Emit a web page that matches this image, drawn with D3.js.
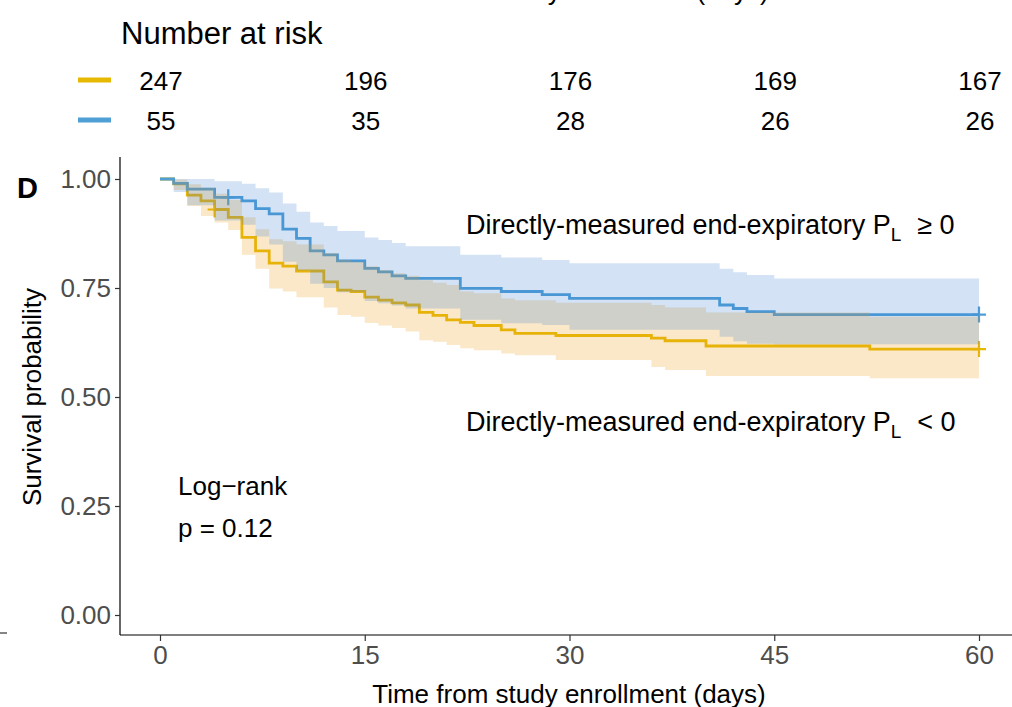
<!DOCTYPE html>
<html><head><meta charset="utf-8">
<script src="https://cdn.jsdelivr.net/npm/d3@7"></script>
<style>
html,body{margin:0;padding:0;background:#fff;}
svg{display:block;font-family:"Liberation Sans",Arial,Helvetica,sans-serif;}
</style></head>
<body>
<svg id="chart" width="1012" height="707"></svg>
<script>
// ---- Data ----
const groups = ["Directly-measured end-expiratory PL < 0", "Directly-measured end-expiratory PL ≥ 0"];
const colors = ["#E7B800", "#4F9FD6"];

const timesLow = [0,1,2,3,4,5,6,7,8,9,10,12,13,14,15,16,17,18,19,20,21,22,23,25,26,29,36,37,40,52];
const survLow  = [1.000,0.989,0.963,0.950,0.930,0.912,0.866,0.835,0.807,0.800,0.789,0.764,0.745,0.742,0.729,0.722,0.716,0.711,0.694,0.687,0.677,0.671,0.664,0.654,0.646,0.641,0.635,0.629,0.617,0.610];
const upperLow = [1.000,0.999,0.988,0.980,0.966,0.952,0.912,0.885,0.862,0.857,0.850,0.830,0.814,0.810,0.800,0.791,0.784,0.778,0.768,0.762,0.757,0.742,0.738,0.726,0.722,0.716,0.711,0.705,0.694,0.684];
const lowerLow = [1.000,0.975,0.938,0.915,0.900,0.883,0.826,0.794,0.749,0.742,0.729,0.705,0.688,0.684,0.670,0.664,0.658,0.650,0.630,0.627,0.619,0.612,0.607,0.600,0.596,0.585,0.569,0.562,0.548,0.543];
const censorLow = [4, 60];

const timesHigh = [0,1,2,4,6,7,8,9,10,11,12,13,15,16,17,18,22,25,28,30,41,42,43,45];
const survHigh  = [1.000,0.990,0.977,0.958,0.950,0.932,0.920,0.885,0.864,0.835,0.826,0.812,0.795,0.787,0.778,0.772,0.749,0.742,0.735,0.726,0.711,0.703,0.696,0.689];
const upperHigh = [1.000,1.000,1.000,0.995,0.989,0.979,0.969,0.944,0.925,0.900,0.892,0.881,0.866,0.860,0.853,0.846,0.826,0.820,0.814,0.807,0.794,0.786,0.780,0.772];
const lowerHigh = [1.000,0.970,0.940,0.905,0.895,0.868,0.850,0.810,0.790,0.760,0.750,0.740,0.720,0.715,0.710,0.703,0.677,0.669,0.665,0.654,0.638,0.628,0.622,0.621];
const censorHigh = [5, 60];

const endTime = 60;
const xTicks = [0,15,30,45,60];
const yTicks = [0,0.25,0.5,0.75,1];
const riskTimes = [0,15,30,45,60];
const riskLow  = [247,196,176,169,167];
const riskHigh = [55,35,28,26,26];

// ---- Build ----
const svg = d3.select("#chart");
const x = d3.scaleLinear().domain([0,60]).range([160,979]);
const y = d3.scaleLinear().domain([0,1]).range([615,179]);
const textCol = "#4D4D4D";
const FS = "26px";

function series(times, surv, up, lo){
  const d = times.map((t,i)=>({t, s:surv[i], u:up[i], l:lo[i]}));
  const last = d[d.length-1];
  d.push({t:endTime, s:last.s, u:last.u, l:last.l});
  return d;
}
const sLow = series(timesLow, survLow, upperLow, lowerLow);
const sHigh = series(timesHigh, survHigh, upperHigh, lowerHigh);

function survAt(d, t){ let v = d[0].s; for(const p of d){ if(p.t<=t) v=p.s; } return v; }

const line = d3.line().x(d=>x(d.t)).y(d=>y(d.s)).curve(d3.curveStepAfter);
const area = d3.area().x(d=>x(d.t)).y0(d=>y(d.l)).y1(d=>y(d.u)).curve(d3.curveStepAfter);

const plot = svg.append("g");
[[sLow,colors[0]],[sHigh,colors[1]]].forEach(([d,c])=>{
  plot.append("path").datum(d).attr("d",line).attr("fill","none")
    .attr("stroke",c).attr("stroke-width",2.8);
});
[[sLow,censorLow,colors[0]],[sHigh,censorHigh,colors[1]]].forEach(([d,cs,c])=>{
  cs.forEach(t=>{
    const cx = x(t), cy = y(survAt(d,t));
    plot.append("path").attr("d",`M${cx-7},${cy}H${cx+7}M${cx},${cy-8}V${cy+8}`)
      .attr("stroke",c).attr("stroke-width",2.2).attr("fill","none");
  });
});
plot.append("path").datum(sLow).attr("d",area).attr("fill","#EBA323").attr("fill-opacity",0.25);
plot.append("path").datum(sHigh).attr("d",area).attr("fill","#377BD2").attr("fill-opacity",0.22);

// axes
const yAxis = d3.axisLeft(y).tickValues(yTicks).tickFormat(d3.format(".2f")).tickSize(5).tickPadding(4);
const gy = svg.append("g").attr("transform","translate(120,0)").call(yAxis);
gy.select(".domain").attr("d","M0,157V635");
const xAxis = d3.axisBottom(x).tickValues(xTicks).tickSize(6).tickPadding(5);
const gx = svg.append("g").attr("transform","translate(0,635)").call(xAxis);
gx.select(".domain").attr("d","M120,0H1012");
[gx,gy].forEach(g=>{
  g.selectAll(".domain").attr("stroke","#000").attr("stroke-width",1.2);
  g.selectAll(".tick line").attr("stroke","#333").attr("stroke-width",1.2);
  g.selectAll(".tick text").attr("fill",textCol).style("font-size",FS)
   .style("font-family","'Liberation Sans',Arial,sans-serif");
});

// axis titles
svg.append("text").attr("x",569).attr("y",703).attr("text-anchor","middle")
  .style("font-size",FS).attr("fill","#000").text("Time from study enrollment (days)");
svg.append("text").attr("transform","translate(41,397) rotate(-90)").attr("text-anchor","middle")
  .style("font-size",FS).attr("fill","#000").text("Survival probability");
// title of the risk table, mostly above the visible area
svg.append("text").attr("x",572).attr("y",0).attr("text-anchor","middle")
  .style("font-size",FS).attr("fill","#000").text("Time from study enrollment (days)");

// panel letter
svg.append("text").attr("x",17).attr("y",198).style("font-size","29px").style("font-weight","bold")
  .attr("fill","#000").text("D");
svg.append("line").attr("x1",0).attr("x2",7).attr("y1",633).attr("y2",633).attr("stroke","#333").attr("stroke-width",1.2);

function groupLabel(yy, sym){
  const t = svg.append("text").attr("x",466).attr("y",yy).style("font-size","27px").attr("fill","#000");
  t.append("tspan").text("Directly-measured end-expiratory P");
  t.append("tspan").attr("dy",7).style("font-size","19px").text("L");
  t.append("tspan").attr("dy",-7).attr("dx",16).text(sym + " 0");
}
groupLabel(234, "≥");
groupLabel(431, "<");

svg.append("text").attr("x",178).attr("y",495).style("font-size",FS).attr("fill","#000").text("Log\u2212rank");
svg.append("text").attr("x",178).attr("y",537).style("font-size",FS).attr("fill","#000").text("p = 0.12");

// risk table
svg.append("text").attr("x",121).attr("y",44).style("font-size","31px").attr("fill","#000").text("Number at risk");
const rows = [[riskLow,colors[0],81],[riskHigh,colors[1],121]];
rows.forEach(([vals,c,yy])=>{
  svg.append("line").attr("x1",78).attr("x2",111).attr("y1",yy-1).attr("y2",yy-1)
    .attr("stroke",c).attr("stroke-width",5);
  svg.selectAll(null).data(riskTimes).enter().append("text")
    .attr("x",(d)=>x(d)+1).attr("y",yy+9).attr("text-anchor","middle")
    .style("font-size",FS).attr("fill","#000").text((d,i)=>vals[i]);
});
</script>
</body></html>
